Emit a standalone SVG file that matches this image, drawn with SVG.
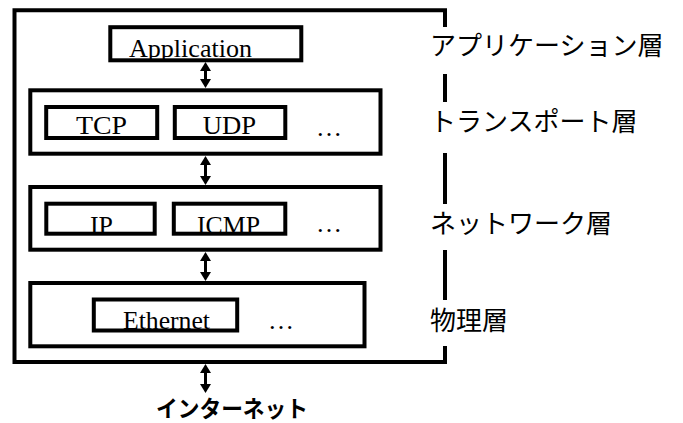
<svg xmlns="http://www.w3.org/2000/svg" width="683" height="423" viewBox="0 0 683 423">
<style>
.box{fill:none;stroke:#000;stroke-width:4}
.frame{fill:none;stroke:#000;stroke-width:4;stroke-linecap:square}
.t{font-family:"Liberation Serif","Times New Roman",serif;fill:#000}
.j{font-family:"Noto Sans CJK JP","Noto Sans",sans-serif;fill:#000;font-size:26px}
.conn{stroke:#000;stroke-width:3;marker-start:url(#ah);marker-end:url(#ah)}
</style>
<defs>
<marker id="ah" viewBox="0 0 9 11" refX="6" refY="5.5" markerWidth="9" markerHeight="11" markerUnits="userSpaceOnUse" orient="auto-start-reverse">
<path d="M0,0 L9,5.5 L0,11 z" fill="#000"/>
</marker>
</defs>
<rect width="683" height="423" fill="#fff"/>
<g id="frame">
<path class="frame" d="M445,25 V10.3 H14.5 V362 H445 V348"/>
<path class="frame" d="M445,76 V100 M445,155 V202 M445,252 V298"/>
</g>
<g id="application">
<rect class="box" x="110.3" y="27.2" width="191" height="33.1"/>
<text class="t" x="129" y="56.5" font-size="25" textLength="123" lengthAdjust="spacingAndGlyphs">Application</text>
</g>
<g id="transport">
<rect class="box" x="30.3" y="90.3" width="350.2" height="63.4"/>
<g id="tcp">
<rect class="box" x="46.2" y="107" width="111" height="31"/>
<text class="t" x="76" y="134" font-size="25" textLength="51" lengthAdjust="spacingAndGlyphs">TCP</text>
</g>
<g id="udp">
<rect class="box" x="174.8" y="107" width="110.5" height="31"/>
<text class="t" x="202.7" y="134" font-size="25" textLength="53.3" lengthAdjust="spacingAndGlyphs">UDP</text>
</g>
<text class="t" x="316" y="136" font-size="26">…</text>
</g>
<g id="network">
<rect class="box" x="30.3" y="187" width="350.2" height="62.7"/>
<g id="ip">
<rect class="box" x="46.3" y="203.7" width="108.4" height="30"/>
<text class="t" x="90" y="234" font-size="25" textLength="23" lengthAdjust="spacingAndGlyphs">IP</text>
</g>
<g id="icmp">
<rect class="box" x="173.8" y="203.7" width="111.5" height="30"/>
<text class="t" x="197" y="234" font-size="25" textLength="63" lengthAdjust="spacingAndGlyphs">ICMP</text>
</g>
<text class="t" x="316" y="232" font-size="26">…</text>
</g>
<g id="physical">
<rect class="box" x="30.3" y="283" width="334.2" height="63.3"/>
<g id="ethernet">
<rect class="box" x="93.8" y="299.5" width="143.4" height="31"/>
<text class="t" x="123" y="329" font-size="25" textLength="87" lengthAdjust="spacingAndGlyphs">Ethernet</text>
</g>
<text class="t" x="268" y="329" font-size="26">…</text>
</g>
<g id="labels">
<text class="j" x="430" y="55">アプリケーション層</text>
<text class="j" x="430" y="131">トランスポート層</text>
<text class="j" x="430" y="233">ネットワーク層</text>
<text class="j" x="430" y="330">物理層</text>
</g>
<g id="internet">
<text class="j" x="156" y="417" font-weight="bold" style="font-size:23px" textLength="152" lengthAdjust="spacingAndGlyphs">インターネット</text>
</g>
<g id="connectors">
<line class="conn" x1="205.5" y1="65" x2="205.5" y2="85"/>
<line class="conn" x1="205.5" y1="159" x2="205.5" y2="182"/>
<line class="conn" x1="205.5" y1="255" x2="205.5" y2="278"/>
<line class="conn" x1="205.5" y1="367" x2="205.5" y2="390"/>
</g>
</svg>
